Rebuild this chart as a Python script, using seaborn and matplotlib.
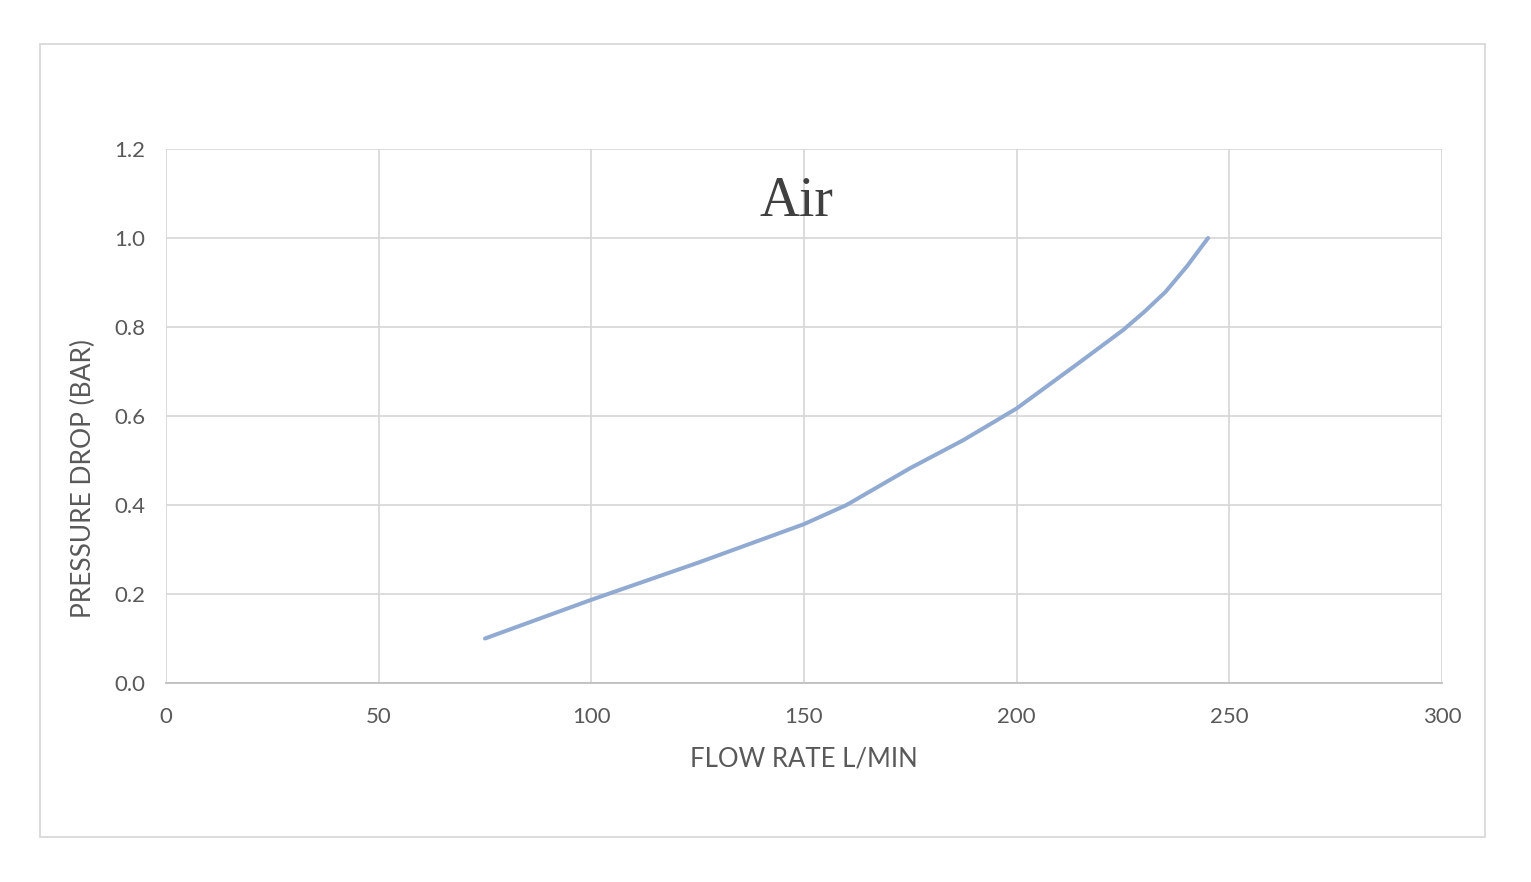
import matplotlib
matplotlib.use("Agg")
import matplotlib.pyplot as plt
import seaborn as sns
import pandas as pd
from matplotlib.patches import Rectangle

flow_rate = [75, 100, 125, 150, 160, 175, 187.5, 200, 215, 225, 230, 235, 240, 245]
pressure_drop = [0.10, 0.187, 0.27, 0.357, 0.40, 0.483, 0.546, 0.617, 0.722, 0.793,
                 0.834, 0.879, 0.936, 1.0]
x_ticks = [0, 50, 100, 150, 200, 250, 300]
y_ticks = [0.0, 0.2, 0.4, 0.6, 0.8, 1.0, 1.2]

df = pd.DataFrame({"flow": flow_rate, "dp": pressure_drop})

sns.set_theme(style="white")
plt.rcParams['font.family'] = ['Lato', 'DejaVu Sans']

fig = plt.figure(figsize=(15.31, 8.82), dpi=100)
fig.patch.set_facecolor("white")
fig.patches.append(Rectangle((40 / 1531, 45 / 882), 1445 / 1531, 793 / 882,
                             transform=fig.transFigure, fill=False,
                             edgecolor="#D9D9D9", linewidth=1.3))

ax = fig.add_axes([166 / 1531, (882 - 683) / 882, 1276 / 1531, 534 / 882])
sns.lineplot(data=df, x="flow", y="dp", ax=ax, color="#91AAD2", linewidth=2.9,
             sort=False)
ax.lines[0].set_solid_joinstyle("round")
ax.lines[0].set_solid_capstyle("round")

ax.set_xlim(0, 300)
ax.set_ylim(0, 1.2)
ax.set_xticks(x_ticks)
ax.set_xticklabels([str(v) for v in x_ticks])
ax.set_yticks(y_ticks)
ax.set_yticklabels([f"{v:.1f}" for v in y_ticks])
ax.grid(True, color="#D9D9D9", linewidth=1.3)
ax.set_axisbelow(True)
for s in ["top", "right", "left"]:
    ax.spines[s].set_visible(False)
ax.spines["bottom"].set_color("#BFBFBF")
ax.spines["bottom"].set_linewidth(1.3)
ax.tick_params(axis="both", length=0, labelsize=16, labelcolor="#595959")
ax.tick_params(axis="y", pad=15)
ax.tick_params(axis="x", pad=17)

ax.set_xlabel("FLOW RATE L/MIN", fontsize=18.5, color="#595959", labelpad=14)
ax.set_ylabel("")
fig.text(83 / 1531, (882 - 478) / 882, "PRESSURE DROP (BAR)", rotation=90,
         ha="center", va="center", fontsize=19, color="#595959")

ax.text(0.494, 0.90, "Air", transform=ax.transAxes, ha="center", va="center",
        fontsize=40, color="#404040", family=["Liberation Serif", "DejaVu Serif"])

fig.savefig("out.png", dpi=100, facecolor="white")
